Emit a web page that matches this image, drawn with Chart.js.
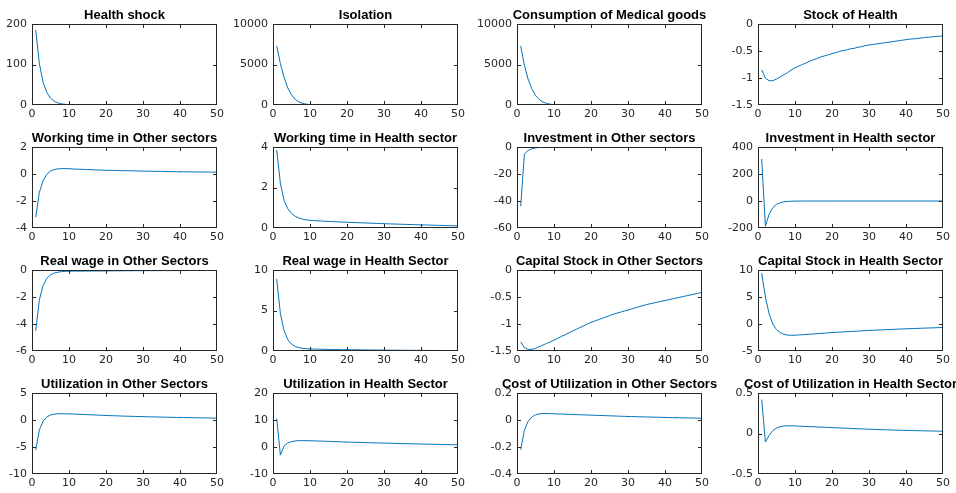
<!DOCTYPE html>
<html>
<head>
<meta charset="utf-8">
<script src="https://cdn.jsdelivr.net/npm/chart.js@4"></script>
<style>
  body { margin: 0; background: #fff; width: 956px; height: 493px; position: relative; overflow: hidden; }
  canvas { position: absolute; }
</style>
</head>
<body>
<script>
// impulse responses, periods 1..50
const periods = [1, 2, 3, 4, 5, 6, 7, 8, 9, 10, 11, 12, 13, 14, 15, 16, 17, 18, 19, 20,
  21, 22, 23, 24, 25, 26, 27, 28, 29, 30, 31, 32, 33, 34, 35, 36, 37, 38, 39, 40,
  41, 42, 43, 44, 45, 46, 47, 48, 49, 50];
const xTicks = [0, 10, 20, 30, 40, 50];

const titles = [
  "Health shock", "Isolation", "Consumption of Medical goods", "Stock of Health",
  "Working time in Other sectors", "Working time in Health sector", "Investment in Other sectors", "Investment in Health sector",
  "Real wage in Other Sectors", "Real wage in Health Sector", "Capital Stock in Other Sectors", "Capital Stock in Health Sector",
  "Utilization in Other Sectors", "Utilization in Health Sector", "Cost of Utilization in Other Sectors", "Cost of Utilization in Health Sector"
];

const healthShock = [185, 102, 56, 31, 17, 9.4, 5.2, 2.8, 1.6, 0.9,
  0.5, 0.27, 0.15, 0.08, 0.05, 0.03, 0.02, 0.01, 0.005, 0,
  0, 0, 0, 0, 0, 0, 0, 0, 0, 0, 0, 0, 0, 0, 0, 0, 0, 0, 0, 0,
  0, 0, 0, 0, 0, 0, 0, 0, 0, 0];
const isolation = [7300, 5100, 3400, 2100, 1250, 700, 380, 200, 100, 50,
  25, 12, 6, 3, 1.5, 0.7, 0.3, 0.15, 0.07, 0,
  0, 0, 0, 0, 0, 0, 0, 0, 0, 0, 0, 0, 0, 0, 0, 0, 0, 0, 0, 0,
  0, 0, 0, 0, 0, 0, 0, 0, 0, 0];
const medicalGoods = [7300, 4900, 3200, 2000, 1200, 680, 370, 190, 95, 47,
  23, 11, 5, 2.5, 1.2, 0.6, 0.3, 0.1, 0.05, 0,
  0, 0, 0, 0, 0, 0, 0, 0, 0, 0, 0, 0, 0, 0, 0, 0, 0, 0, 0, 0,
  0, 0, 0, 0, 0, 0, 0, 0, 0, 0];
const stockHealth = [-0.85, -1.00, -1.05, -1.05, -1.02, -0.98, -0.94, -0.90, -0.85, -0.81,
  -0.78, -0.75, -0.72, -0.69, -0.66, -0.64, -0.61, -0.59, -0.57, -0.55,
  -0.53, -0.51, -0.49, -0.48, -0.46, -0.45, -0.43, -0.42, -0.40, -0.39,
  -0.38, -0.37, -0.36, -0.35, -0.34, -0.33, -0.32, -0.31, -0.30, -0.29,
  -0.28, -0.275, -0.27, -0.26, -0.25, -0.245, -0.24, -0.23, -0.225, -0.22];

const workOther = [-3.2, -1.35, -0.5, -0.02, 0.22, 0.33, 0.38, 0.40, 0.40, 0.39,
  0.375, 0.36, 0.35, 0.34, 0.33, 0.315, 0.305, 0.295, 0.285, 0.275,
  0.27, 0.265, 0.26, 0.25, 0.245, 0.24, 0.235, 0.225, 0.22, 0.215,
  0.21, 0.205, 0.2, 0.195, 0.19, 0.185, 0.18, 0.175, 0.17, 0.165,
  0.162, 0.159, 0.156, 0.153, 0.15, 0.147, 0.144, 0.141, 0.138, 0.135];
const workHealth = [3.85, 2.2, 1.35, 0.95, 0.72, 0.58, 0.49, 0.44, 0.4, 0.38,
  0.365, 0.355, 0.345, 0.335, 0.325, 0.315, 0.307, 0.3, 0.292, 0.285,
  0.277, 0.27, 0.262, 0.255, 0.248, 0.241, 0.234, 0.227, 0.22, 0.214,
  0.208, 0.202, 0.196, 0.19, 0.184, 0.178, 0.172, 0.166, 0.16, 0.155,
  0.15, 0.145, 0.14, 0.135, 0.13, 0.125, 0.12, 0.115, 0.11, 0.105];
const invOther = [-44, -5.2, -2.6, -1.3, -0.65, -0.33, -0.17, -0.09, -0.05, -0.03,
  -0.02, -0.01, -0.01, -0.005, 0, 0, 0, 0, 0, 0,
  0, 0, 0, 0, 0, 0, 0, 0, 0, 0, 0, 0, 0, 0, 0, 0, 0, 0, 0, 0,
  0, 0, 0, 0, 0, 0, 0, 0, 0, 0];
const invHealth = [311, -187, -99, -50, -25, -12.5, -6.3, -3.2, -1.6, -0.8,
  -0.4, -0.2, -0.1, -0.05, 0, 0, 0, 0, 0, 0,
  0, 0, 0, 0, 0, 0, 0, 0, 0, 0, 0, 0, 0, 0, 0, 0, 0, 0, 0, 0,
  0, 0, 0, 0, 0, 0, 0, 0, 0, 0];

const wageOther = [-4.5, -2.2, -1.15, -0.62, -0.36, -0.23, -0.16, -0.12, -0.1, -0.09,
  -0.085, -0.082, -0.08, -0.078, -0.076, -0.074, -0.072, -0.07, -0.068, -0.066,
  -0.064, -0.062, -0.06, -0.058, -0.056, -0.055, -0.054, -0.053, -0.052, -0.051,
  -0.05, -0.049, -0.048, -0.047, -0.046, -0.045, -0.044, -0.043, -0.042, -0.041,
  -0.04, -0.039, -0.038, -0.037, -0.036, -0.035, -0.034, -0.033, -0.032, -0.031];
const wageHealth = [8.9, 4.6, 2.5, 1.4, 0.85, 0.56, 0.41, 0.33, 0.28, 0.25,
  0.235, 0.225, 0.215, 0.205, 0.195, 0.187, 0.18, 0.173, 0.166, 0.16,
  0.154, 0.148, 0.142, 0.137, 0.132, 0.127, 0.122, 0.117, 0.113, 0.109,
  0.105, 0.101, 0.097, 0.093, 0.09, 0.087, 0.084, 0.081, 0.078, 0.075,
  0.072, 0.069, 0.066, 0.064, 0.062, 0.06, 0.058, 0.056, 0.054, 0.052];
const capOther = [-1.33, -1.44, -1.47, -1.47, -1.45, -1.42, -1.39, -1.36, -1.33, -1.30,
  -1.265, -1.23, -1.2, -1.165, -1.13, -1.1, -1.065, -1.035, -1.0, -0.97,
  -0.945, -0.92, -0.895, -0.87, -0.845, -0.82, -0.8, -0.78, -0.76, -0.74,
  -0.72, -0.70, -0.68, -0.66, -0.64, -0.625, -0.61, -0.595, -0.58, -0.565,
  -0.55, -0.535, -0.52, -0.505, -0.49, -0.475, -0.46, -0.445, -0.43, -0.415];
const capHealth = [9.4, 5.0, 1.9, 0.0, -1.05, -1.6, -1.9, -2.05, -2.1, -2.07,
  -2.03, -1.99, -1.94, -1.89, -1.84, -1.79, -1.74, -1.69, -1.64, -1.59,
  -1.55, -1.51, -1.47, -1.43, -1.39, -1.35, -1.31, -1.27, -1.23, -1.19,
  -1.16, -1.13, -1.10, -1.07, -1.04, -1.01, -0.98, -0.95, -0.92, -0.89,
  -0.865, -0.84, -0.815, -0.79, -0.765, -0.74, -0.715, -0.69, -0.665, -0.64];

const utilOther = [-5.6, -1.8, -0.2, 0.55, 0.92, 1.08, 1.15, 1.16, 1.15, 1.13,
  1.11, 1.08, 1.05, 1.02, 0.99, 0.96, 0.93, 0.9, 0.87, 0.84,
  0.815, 0.79, 0.765, 0.74, 0.72, 0.7, 0.68, 0.66, 0.64, 0.62,
  0.6, 0.585, 0.57, 0.555, 0.54, 0.525, 0.51, 0.495, 0.48, 0.465,
  0.452, 0.44, 0.428, 0.416, 0.404, 0.392, 0.38, 0.368, 0.356, 0.345];
const utilHealth = [10.5, -3.0, 0.4, 1.5, 2.0, 2.25, 2.35, 2.36, 2.34, 2.3,
  2.26, 2.22, 2.18, 2.13, 2.08, 2.03, 1.98, 1.93, 1.88, 1.83,
  1.79, 1.75, 1.71, 1.67, 1.63, 1.59, 1.55, 1.51, 1.47, 1.43,
  1.4, 1.37, 1.33, 1.3, 1.27, 1.24, 1.21, 1.18, 1.15, 1.11,
  1.08, 1.05, 1.02, 0.99, 0.96, 0.93, 0.9, 0.86, 0.83, 0.8];
const costOther = [-0.22, -0.075, -0.01, 0.022, 0.038, 0.045, 0.048, 0.048, 0.047, 0.046,
  0.045, 0.044, 0.043, 0.042, 0.041, 0.04, 0.039, 0.038, 0.037, 0.036,
  0.035, 0.034, 0.033, 0.032, 0.031, 0.03, 0.029, 0.028, 0.027, 0.026,
  0.0253, 0.0246, 0.0239, 0.0232, 0.0225, 0.0218, 0.0211, 0.0204, 0.0197, 0.019,
  0.0184, 0.0178, 0.0172, 0.0166, 0.016, 0.0154, 0.0148, 0.0142, 0.0136, 0.013];
const costHealth = [0.42, -0.105, -0.025, 0.035, 0.068, 0.085, 0.093, 0.095, 0.095, 0.093,
  0.091, 0.089, 0.087, 0.085, 0.083, 0.081, 0.079, 0.077, 0.075, 0.073,
  0.071, 0.069, 0.067, 0.065, 0.063, 0.061, 0.059, 0.057, 0.055, 0.053,
  0.051, 0.05, 0.048, 0.047, 0.045, 0.044, 0.042, 0.041, 0.039, 0.038,
  0.037, 0.036, 0.035, 0.034, 0.033, 0.032, 0.031, 0.03, 0.029, 0.028];

const series = [healthShock, isolation, medicalGoods, stockHealth,
  workOther, workHealth, invOther, invHealth,
  wageOther, wageHealth, capOther, capHealth,
  utilOther, utilHealth, costOther, costHealth];

const yTicks = [
  [0, 100, 200], [0, 5000, 10000], [0, 5000, 10000], [-1.5, -1, -0.5, 0],
  [-4, -2, 0, 2], [0, 2, 4], [-60, -40, -20, 0], [-200, 0, 200, 400],
  [-6, -4, -2, 0], [0, 5, 10], [-1.5, -1, -0.5, 0], [-5, 0, 5, 10],
  [-10, -5, 0, 5], [-10, 0, 10, 20], [-0.4, -0.2, 0, 0.2], [-0.5, 0, 0.5]
];

// plot area placement (left edge per column, top edge per row)
const colLeft = [32, 273, 517, 758];
const rowTop = [24, 147, 270, 393];
const PLOT_W = 185, PLOT_H = 81;
const PAD_L = 44, PAD_T = 24, PAD_R = 16, PAD_B = 20;

const axisColor = "#262626";
const tickFont = { family: "'DejaVu Sans', sans-serif", size: 11 };

// matlab style box with inward ticks
const boxPlugin = {
  id: "matlabBox",
  afterDraw(chart) {
    const { ctx, chartArea: a, scales } = chart;
    const L = Math.round(a.left), T = Math.round(a.top);
    const R = Math.round(a.right) - 1, B = Math.round(a.bottom) - 1;
    const tl = 3;
    ctx.save();
    ctx.fillStyle = axisColor;
    ctx.fillRect(L, T, R - L + 1, 1);
    ctx.fillRect(L, B, R - L + 1, 1);
    ctx.fillRect(L, T, 1, B - T + 1);
    ctx.fillRect(R, T, 1, B - T + 1);
    scales.x.ticks.forEach(t => {
      const px = Math.min(R, Math.round(scales.x.getPixelForValue(t.value)));
      ctx.fillRect(px, B - tl, 1, tl);
      ctx.fillRect(px, T + 1, 1, tl);
    });
    scales.y.ticks.forEach(t => {
      const py = Math.min(B, Math.round(scales.y.getPixelForValue(t.value)));
      ctx.fillRect(L + 1, py, tl, 1);
      ctx.fillRect(R - tl, py, tl, 1);
    });
    ctx.restore();
  }
};

const titlePlugin = {
  id: "panelTitle",
  afterDraw(chart, args, opts) {
    const { ctx, chartArea: a } = chart;
    ctx.save();
    ctx.font = "bold 13px 'Liberation Sans', Arial, sans-serif";
    ctx.fillStyle = "#000";
    ctx.textAlign = "center";
    ctx.textBaseline = "alphabetic";
    ctx.fillText(opts.text, (a.left + a.right) / 2, a.top - 5);
    ctx.restore();
  }
};

series.forEach((vals, i) => {
  const c = document.createElement("canvas");
  const w = PLOT_W + PAD_L + PAD_R, h = PLOT_H + PAD_T + PAD_B;
  c.width = w; c.height = h;
  c.style.width = w + "px"; c.style.height = h + "px";
  c.style.left = (colLeft[i % 4] - PAD_L) + "px";
  c.style.top = (rowTop[Math.floor(i / 4)] - PAD_T) + "px";
  document.body.appendChild(c);

  const yt = yTicks[i];
  new Chart(c, {
    type: "line",
    data: {
      datasets: [{
        data: periods.map((t, k) => ({ x: t, y: vals[k] })),
        borderColor: "#0072BD",
        borderWidth: 1,
        pointRadius: 0,
        tension: 0,
        fill: false
      }]
    },
    options: {
      responsive: false,
      animation: false,
      devicePixelRatio: 1,
      layout: { padding: { top: PAD_T, right: PAD_R, left: 0, bottom: 0 } },
      plugins: {
        legend: { display: false },
        tooltip: { enabled: false },
        panelTitle: { text: titles[i] }
      },
      scales: {
        x: {
          type: "linear",
          min: 0, max: 50,
          afterBuildTicks: s => { s.ticks = xTicks.map(v => ({ value: v })); },
          afterFit: s => { s.height = PAD_B; },
          grid: { display: false, drawTicks: false },
          border: { display: false },
          ticks: { font: tickFont, color: axisColor, padding: 3, maxRotation: 0, autoSkip: false, callback: v => String(v) }
        },
        y: {
          min: yt[0], max: yt[yt.length - 1],
          afterBuildTicks: s => { s.ticks = yt.map(v => ({ value: v })); },
          afterFit: s => { s.width = PAD_L; },
          grid: { display: false, drawTicks: false },
          border: { display: false },
          ticks: { font: tickFont, color: axisColor, padding: 5, autoSkip: false, callback: v => String(v) }
        }
      }
    },
    plugins: [boxPlugin, titlePlugin]
  });
});
</script>
</body>
</html>
